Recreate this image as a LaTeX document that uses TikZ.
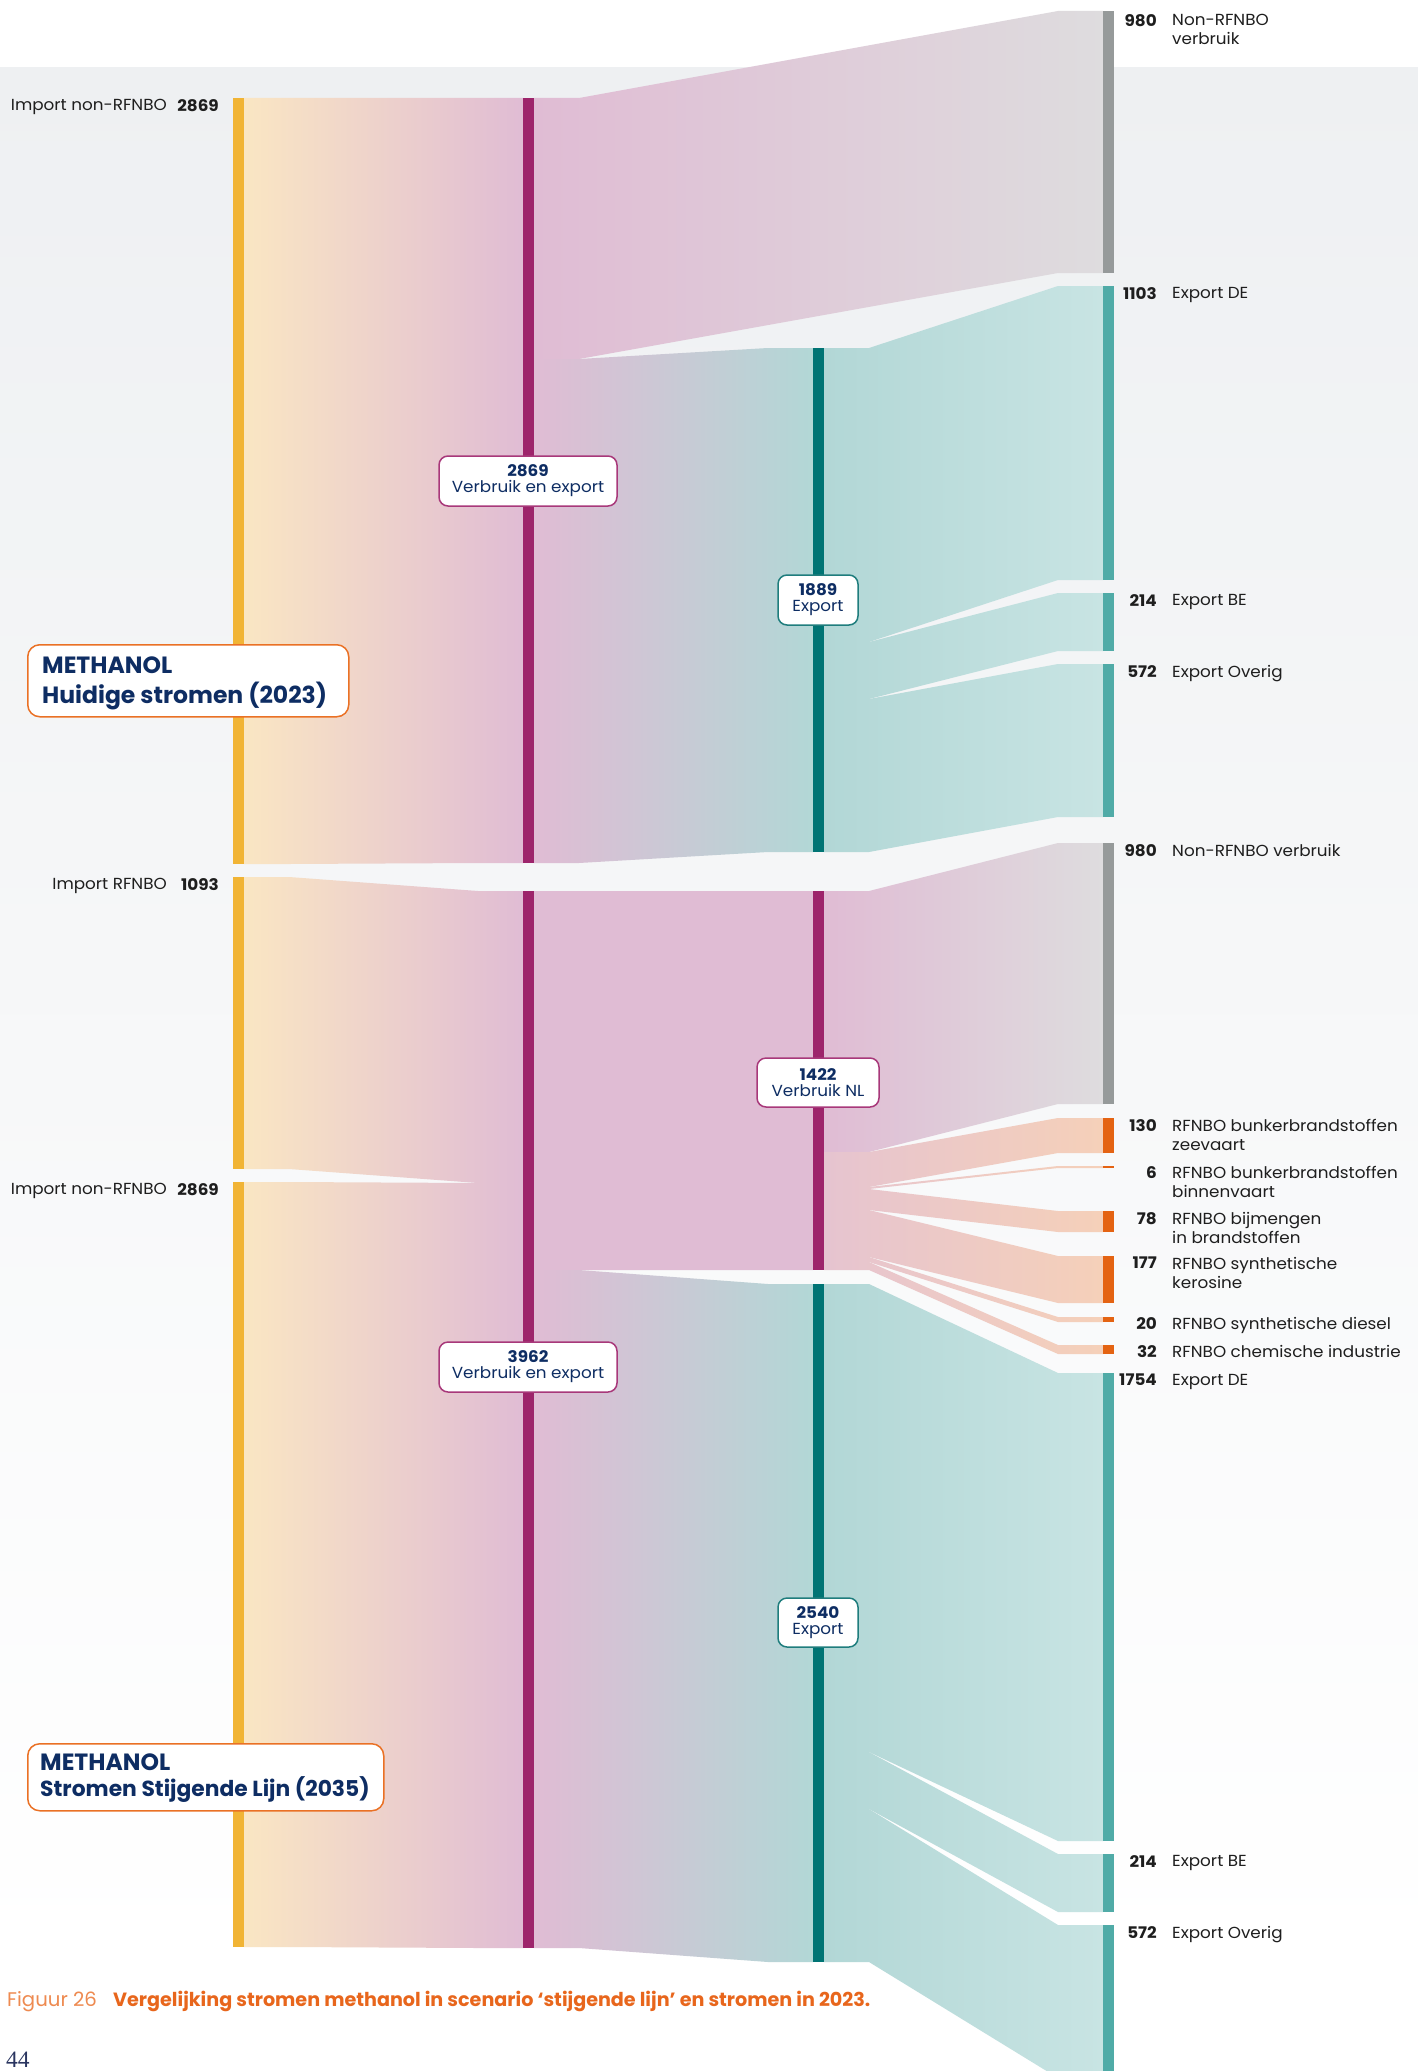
\documentclass[tikz,border=0pt]{standalone}
\usepackage{fontspec}
\setsansfont{Poppins}
\newfontfamily\lblfont{Poppins}[FakeStretch=1.05]
\newfontfamily\pagefont{Liberation Serif}
\usetikzlibrary{positioning}

\definecolor{bggrey}{HTML}{EEF0F2}
\definecolor{impyellow}{HTML}{F1B435}
\definecolor{yellowflow}{HTML}{FAE6C3}
\definecolor{magbar}{HTML}{9D246B}
\definecolor{pinkflow}{HTML}{E0BCD4}
\definecolor{greyflow}{HTML}{DEDCDE}
\definecolor{greybar}{HTML}{969A9A}
\definecolor{tealbar}{HTML}{007474}
\definecolor{tealflowa}{HTML}{B2D7D6}
\definecolor{tealflowb}{HTML}{C8E4E3}
\definecolor{exportbar}{HTML}{50ABA7}
\definecolor{rfnbobar}{HTML}{E46312}
\definecolor{rfnboflowa}{HTML}{E6C4D0}
\definecolor{rfnboflowb}{HTML}{F5D0B9}
\definecolor{navy}{HTML}{0E2D63}
\definecolor{boxorange}{HTML}{EA7125}
\definecolor{boxmag}{HTML}{A8387A}
\definecolor{boxteal}{HTML}{1F7D7D}
\definecolor{labelblack}{HTML}{1E1E1E}
\definecolor{caporange}{HTML}{E8661C}
\definecolor{figorange}{HTML}{EE8A50}
\definecolor{pagenavy}{HTML}{2A3560}

\newcommand{\flowband}[8]{\shade[left color=#7, right color=#8] (#1,#2) -- ({#1+45},#2) -- ({#4-45},#5) -- (#4,#5) -- (#4,#6) -- ({#4-45},#6) -- ({#1+45},#3) -- (#1,#3) -- cycle;}

\tikzset{
  lbl/.style={font=\lblfont\fontsize{16}{19}\selectfont, text=labelblack, inner sep=0pt, align=left},
  num/.style={font=\lblfont\bfseries\fontsize{16}{19}\selectfont, text=labelblack, inner sep=0pt, anchor=north east},
  sumbox/.style={draw=#1, line width=1.5pt, fill=white, rounded corners=9pt, minimum height=50pt, align=center, text=navy, inner sep=0pt, font=\lblfont\fontsize{16}{16}\selectfont},
  titlebox/.style={draw=boxorange, line width=1.5pt, fill=white, rounded corners=12pt, anchor=north west, inner sep=0pt},
  titletext/.style={align=left, text=navy, inner sep=0pt, anchor=west, font=\sffamily\bfseries\fontsize{23.5}{30}\selectfont}
}

\begin{document}
\begin{tikzpicture}[x=1pt,y=-1pt]
\useasboundingbox (0,0) rectangle (1418,2071);
\clip (0,0) rectangle (1418,2071);
\fill[white] (0,0) rectangle (1418,2071);
\shade[top color=bggrey, bottom color=white] (0,68) rectangle (1418,1960);

\flowband{244}{98}{864}{523}{98}{863}{yellowflow}{pinkflow}
\flowband{534}{98}{359}{1103}{11}{273}{pinkflow}{greyflow}
\flowband{534}{359}{863}{813}{348}{852}{pinkflow}{tealflowa}
\flowband{824}{348}{642}{1103}{286}{580}{tealflowa}{tealflowb}
\flowband{824}{642}{699}{1103}{593}{651}{tealflowa}{tealflowb}
\flowband{824}{699}{852}{1103}{664}{817}{tealflowa}{tealflowb}

\flowband{244}{877}{1169}{523}{891}{1183}{yellowflow}{pinkflow}
\flowband{244}{1182}{1947}{523}{1183}{1948}{yellowflow}{pinkflow}
\flowband{534}{891}{1270}{813}{891}{1270}{pinkflow}{pinkflow}
\flowband{534}{1270}{1948}{813}{1284}{1962}{pinkflow}{tealflowa}
\flowband{824}{891}{1152}{1103}{843}{1104}{pinkflow}{greyflow}
\flowband{824}{1152}{1187}{1103}{1118}{1153}{rfnboflowa}{rfnboflowb}
\flowband{824}{1187}{1189}{1103}{1166}{1168}{rfnboflowa}{rfnboflowb}
\flowband{824}{1189}{1210}{1103}{1211}{1232}{rfnboflowa}{rfnboflowb}
\flowband{824}{1210}{1257}{1103}{1256}{1303}{rfnboflowa}{rfnboflowb}
\flowband{824}{1257}{1262}{1103}{1317}{1322}{rfnboflowa}{rfnboflowb}
\flowband{824}{1262}{1270}{1103}{1345}{1354}{rfnboflowa}{rfnboflowb}
\flowband{824}{1284}{1752}{1103}{1373}{1841}{tealflowa}{tealflowb}
\flowband{824}{1752}{1809}{1103}{1854}{1912}{tealflowa}{tealflowb}
\flowband{824}{1809}{1962}{1103}{1925}{2078}{tealflowa}{tealflowb}

\foreach \xa/\ya/\yb/\col in {233/98/864/impyellow, 233/877/1169/impyellow, 233/1182/1947/impyellow,
  523/98/863/magbar, 523/891/1948/magbar, 813/891/1270/magbar,
  813/348/852/tealbar, 813/1284/1962/tealbar,
  1103/11/273/greybar, 1103/843/1104/greybar,
  1103/286/580/exportbar, 1103/593/651/exportbar, 1103/664/817/exportbar,
  1103/1373/1841/exportbar, 1103/1854/1912/exportbar, 1103/1925/2078/exportbar,
  1103/1118/1153/rfnbobar, 1103/1166/1168/rfnbobar, 1103/1211/1232/rfnbobar,
  1103/1256/1303/rfnbobar, 1103/1317/1322/rfnbobar, 1103/1345/1354/rfnbobar}
  \fill[\col] (\xa,\ya) rectangle ({\xa+11},\yb);

\foreach \ypos/\val/\txt [count=\i] in {14/980/{Non-RFNBO\\verbruik}, 287/1103/{Export DE}, 594/214/{Export BE},
  665/572/{Export Overig}, 844/980/{Non-RFNBO verbruik}, 1119/130/{RFNBO bunkerbrandstoffen\\zeevaart},
  1166/6/{RFNBO bunkerbrandstoffen\\binnenvaart}, 1212/78/{RFNBO bijmengen\\in brandstoffen},
  1257/177/{RFNBO synthetische\\kerosine}, 1317/20/{RFNBO synthetische diesel},
  1345/32/{RFNBO chemische industrie}, 1374/1754/{Export DE}, 1855/214/{Export BE}, 1926/572/{Export Overig}}
{
  \node[num] (rv\i) at (1157,\ypos) {\val};
  \node[lbl, right=15pt of rv\i.north east, anchor=north west] (rl\i) {\txt};
}

\foreach \ypos/\val/\txt [count=\i] in {99/2869/Import non-RFNBO, 878/1093/Import RFNBO, 1183/2869/Import non-RFNBO}
{
  \node[num] (lv\i) at (219,\ypos) {\val};
  \node[lbl, anchor=north east] (ll\i) at (167,\ypos) {\txt};
}

\node[sumbox=boxmag, minimum width=178pt] (sum2869) at (528,481) {\textbf{2869}\\Verbruik en export};
\node[sumbox=boxteal, minimum width=80pt] (sum1889) at (818,600) {\textbf{1889}\\Export};
\node[sumbox=boxmag, minimum width=122pt, minimum height=49pt] (sum1422) at (818,1082.5) {\textbf{1422}\\Verbruik NL};
\node[sumbox=boxmag, minimum width=178pt] (sum3962) at (528,1367) {\textbf{3962}\\Verbruik en export};
\node[sumbox=boxteal, minimum width=80pt, minimum height=49pt] (sum2540) at (818,1622.5) {\textbf{2540}\\Export};

\node[titlebox, minimum width=321pt, minimum height=72pt] (title23) at (27,644) {};
\node[titletext, right=15pt of title23.west, yshift=-3pt] (title23txt) {METHANOL\\Huidige stromen (2023)};
\node[titlebox, minimum width=356pt, minimum height=67pt] (title35) at (27,1743) {};
\node[titletext, right=13pt of title35.west, yshift=-1pt, font=\sffamily\bfseries\fontsize{23.5}{26}\selectfont] (title35txt)
  {METHANOL\\{\fontsize{21.8}{26}\selectfont Stromen Stijgende Lijn (2035)}};

\node[anchor=base west, inner sep=0pt, text=figorange, font=\sffamily\fontsize{19.7}{22}\selectfont] (fignum) at (7,2006) {Figuur 26};
\node[anchor=base west, inner sep=0pt, text=caporange, font=\sffamily\bfseries\fontsize{19.15}{22}\selectfont] (figtxt) at (113,2006) {Vergelijking stromen methanol in scenario ‘stijgende lijn’ en stromen in 2023.};
\node[anchor=base west, inner sep=0pt, text=pagenavy, font=\pagefont\fontsize{23.5}{26}\selectfont] (pagenum) at (6,2067) {44};
\end{tikzpicture}
\end{document}
